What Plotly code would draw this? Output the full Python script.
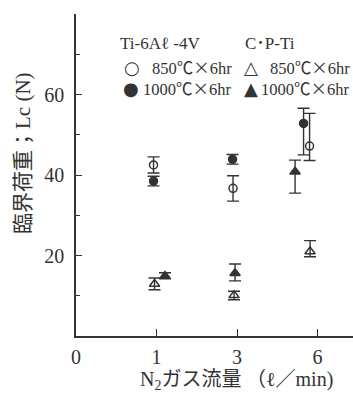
import plotly.graph_objects as go

# ---- data ----
FLOW_TICKS = [0, 1, 3, 6]          # tick labels on x (equally spaced)
FLOW = [1, 3, 6]                    # N2 flow (l/min)

TI_850 = [42.5, 36.7, 47.2]
TI_850_UP = [2.0, 3.1, 8.1]
TI_850_DN = [2.0, 3.2, 3.6]

TI_1000 = [38.5, 43.9, 52.8]
TI_1000_UP = [1.2, 1.2, 3.8]
TI_1000_DN = [1.2, 1.2, 7.8]

CP_850 = [12.9, 10.1, 21.0]
CP_850_UP = [1.5, 1.0, 2.7]
CP_850_DN = [1.4, 1.1, 1.3]

CP_1000 = [14.9, 15.6, 40.8]
CP_1000_UP = [0.8, 2.3, 2.9]
CP_1000_DN = [0.7, 1.9, 5.3]

# ---- layout geometry / styles ----
W, H = 353, 393
ML, MR, MT, MB = 76, 0, 14, 57
PW, PH = W - ML - MR, H - MT - MB
XMAX = 3.44
YMAX = 80
PX_PER_X = PW / XMAX
INK = "#333333"
SERIF = "Liberation Serif, Times New Roman, Noto Sans CJK JP, serif"
CJK = "Noto Sans CJK JP"

def xpos(flows, offsets_px):
    return [FLOW_TICKS.index(f) + o / PX_PER_X for f, o in zip(flows, offsets_px)]

series = [
    dict(y=TI_850, up=TI_850_UP, dn=TI_850_DN, off=[-3, -4, -8],
         symbol="circle-open", size=8),
    dict(y=TI_1000, up=TI_1000_UP, dn=TI_1000_DN, off=[-3, -4.5, -14],
         symbol="circle", size=8),
    dict(y=CP_850, up=CP_850_UP, dn=CP_850_DN, off=[-2, -3, -7.5],
         symbol="triangle-up-open", size=9),
    dict(y=CP_1000, up=CP_1000_UP, dn=CP_1000_DN, off=[8.5, -2, -22.5],
         symbol="triangle-up", size=9),
]

fig = go.Figure()
for s in series:
    fig.add_trace(go.Scatter(
        x=xpos(FLOW, s["off"]), y=s["y"], mode="markers",
        marker=dict(symbol=s["symbol"], size=s["size"], color=INK,
                    line=dict(color=INK, width=1.5)),
        error_y=dict(type="data", symmetric=False, array=s["up"], arrayminus=s["dn"],
                     color=INK, thickness=1.4, width=6),
        showlegend=False, cliponaxis=False,
    ))

def px2paper(px, py):
    return (px - ML) / PW, (H - MB - py) / PH

ann = []
def add_text(text, px, py, size, anchor="left", font=SERIF):
    x, y = px2paper(px, py)
    ann.append(dict(text=text, x=x, y=y, xref="paper", yref="paper",
                    xanchor=anchor, yanchor="middle", showarrow=False,
                    font=dict(family=font, size=size, color=INK)))

def unit(t):
    return t.replace("℃×", f"<span style='font-family:{CJK}'>℃×</span>")

add_text("Ti-6Aℓ -4V", 118, 43, 17)
add_text("C･P-Ti", 243, 43, 17)
add_text("○", 132, 67, 18, "center", "DejaVu Sans")
add_text(unit("850℃×6hr"), 234, 67, 16.5, "right")
add_text("●", 131, 88, 18, "center", "DejaVu Sans")
add_text(unit("1000℃×6hr"), 234, 88, 16.5, "right")
add_text("△", 251, 67, 18, "center", "DejaVu Sans")
add_text(unit("850℃×6hr"), 352, 67, 16.5, "right")
add_text("▲", 251, 88, 18, "center", "DejaVu Sans")
add_text(unit("1000℃×6hr"), 352, 88, 16.5, "right")

# axis titles
xt, yt = px2paper(236, 378)
ann.append(dict(text=f"N<sub>2</sub><span style='font-family:{CJK}'>ガス流量 （</span>ℓ<span style='font-family:{CJK}'>／</span>min)",
                x=xt, y=yt, xref="paper", yref="paper", xanchor="center", yanchor="middle",
                showarrow=False, font=dict(family=SERIF, size=20, color=INK)))
xt, yt = px2paper(21, 153)
ann.append(dict(text=f"<span style='font-family:{CJK}'>臨界荷重；</span>Lc (N)",
                x=xt, y=yt, xref="paper", yref="paper", xanchor="center", yanchor="middle",
                textangle=-90, showarrow=False, font=dict(family=SERIF, size=21, color=INK)))

fig.update_layout(
    width=W, height=H, margin=dict(l=ML, r=MR, t=MT, b=MB),
    paper_bgcolor="white", plot_bgcolor="white",
    annotations=ann,
    xaxis=dict(range=[0, XMAX], tickmode="array", tickvals=list(range(len(FLOW_TICKS))),
               ticktext=[str(v) for v in FLOW_TICKS], ticks="inside", ticklen=7,
               tickwidth=1.2, tickcolor=INK, showline=True, linecolor=INK, linewidth=1.5,
               showgrid=False, zeroline=False, ticklabelstandoff=2,
               tickfont=dict(family=SERIF, size=20, color=INK)),
    yaxis=dict(range=[0, YMAX], tickmode="array", tickvals=[20, 40, 60],
               ticks="inside", ticklen=6, tickwidth=1.2, tickcolor=INK,
               minor=dict(tickmode="array", tickvals=[10, 30, 50, 70], ticks="inside",
                          ticklen=4, tickwidth=1.2, tickcolor=INK),
               showline=True, linecolor=INK, linewidth=1.5, showgrid=False,
               zeroline=False, ticklabelstandoff=6,
               tickfont=dict(family=SERIF, size=20, color=INK)),
)

fig.write_html("out.html")
